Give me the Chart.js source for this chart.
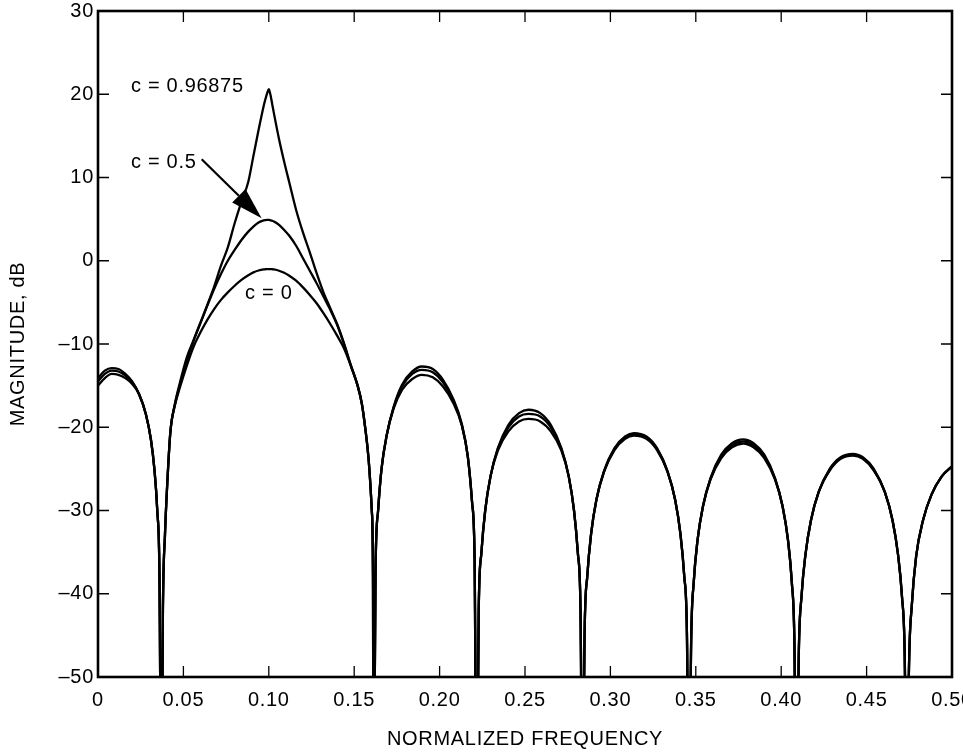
<!DOCTYPE html>
<html><head><meta charset="utf-8">
<script src="https://cdn.jsdelivr.net/npm/chart.js@4.4.1/dist/chart.umd.min.js"></script>
<style>html,body{margin:0;padding:0;background:#fff}#wrap{width:963px;height:756px}</style>
</head><body><div id="wrap"><canvas id="c" width="963" height="756"></canvas></div>
<script>
// ---- data ----
const freq = [
 0,0.004,0.008,0.012,0.016,0.020,0.024,0.028,0.031,0.033,0.0347,0.0360,0.0371,
 0.0380,0.0392,0.0405,0.0424,0.045,0.048,0.052,0.056,0.060,0.064,0.068,0.072,0.076,0.080,0.084,0.088,0.091,0.094,0.097,0.098,0.099,0.100,0.101,0.102,0.103,0.106,0.109,0.112,0.116,0.120,0.124,0.128,0.132,0.136,0.140,0.144,0.148,0.152,0.1545,0.1564,0.1585,0.1603,0.1610,0.1613,
 0.1625,0.1640,0.1660,0.1690,0.1730,0.1780,0.1840,0.1896,0.1960,0.2020,0.2080,0.2130,0.2165,0.2190,0.2205,0.2217,
 0.2229,0.2245,0.2267,0.2298,0.2341,0.2403,0.2465,0.2520,0.2589,0.2651,0.2713,0.2756,0.2787,0.2809,0.2825,0.2837,
 0.2849,0.2865,0.2887,0.2918,0.2962,0.3024,0.3086,0.3137,0.3211,0.3273,0.3335,0.3379,0.3410,0.3432,0.3448,0.3460,
 0.3473,0.3488,0.3510,0.3542,0.3586,0.3649,0.3712,0.3777,0.3838,0.3901,0.3964,0.4008,0.4040,0.4062,0.4077,0.4090,
 0.4103,0.4119,0.4142,0.4174,0.4219,0.4284,0.4348,0.4420,0.4478,0.4542,0.4607,0.4652,0.4684,0.4707,0.4723,0.4736,
 0.4748,0.4765,0.4790,0.4830,0.4880,0.4940,0.5000
];
const magC0 = [
 -15.0,-14.1,-13.6,-13.7,-14.1,-14.8,-16.0,-18.4,-21.5,-25,-30,-38,-70,
 -42,-33,-27,-20.5,-17.4,-15.2,-12.6,-10.3,-8.6,-7.1,-5.8,-4.7,-3.8,-3.0,-2.3,-1.75,-1.4,-1.17,-1.04,-1.02,-1.0,-1.0,-1.0,-1.02,-1.05,-1.2,-1.45,-1.8,-2.4,-3.2,-4.1,-5.1,-6.3,-7.6,-9.0,-10.5,-12.6,-15.0,-17.2,-20,-24,-30,-38,-70,
 -37,-30,-25,-21,-17.8,-15.5,-14.2,-13.7,-14.0,-15.1,-17.1,-19.8,-23.5,-29,-36,-70,
 -41.9,-35,-30,-25.9,-22.8,-20.5,-19.3,-19.0,-19.3,-20.5,-22.8,-25.9,-30,-35,-41.9,-70,
 -44.7,-37.8,-32.8,-28.7,-25.4,-22.75,-21.4,-21.0,-21.4,-22.75,-25.4,-28.7,-32.8,-37.8,-44.7,-70,
 -45.5,-38.6,-33.6,-29.5,-26.3,-23.7,-22.4,-21.95,-22.4,-23.7,-26.3,-29.5,-33.6,-38.6,-45.5,-70,
 -47.2,-40.3,-35.3,-31.2,-27.8,-25.2,-23.8,-23.4,-23.8,-25.2,-27.8,-31.2,-35.3,-40.3,-47.2,-70,
 -49,-41.3,-35.5,-31.2,-28.1,-25.9,-24.7
];
const magC05 = [
 -14.5,-13.6,-13.2,-13.3,-13.8,-14.6,-16.0,-18.4,-21.5,-25,-30,-38,-70,
 -42,-33,-27,-20.5,-17.3,-14.9,-12.0,-9.6,-7.5,-5.4,-3.4,-1.6,0.0,1.3,2.5,3.5,4.1,4.6,4.86,4.89,4.9,4.9,4.86,4.8,4.7,4.3,3.7,3.0,1.8,0.3,-1.2,-2.7,-4.3,-5.9,-7.7,-10.0,-12.6,-15.0,-17.2,-20,-24,-30,-38,-70,
 -37,-30,-25,-21,-17.7,-15.1,-13.6,-13.1,-13.4,-14.6,-16.8,-19.7,-23.5,-29,-36,-70,
 -41.9,-35,-30,-25.9,-22.6,-20.0,-18.7,-18.4,-18.7,-20.0,-22.6,-25.9,-30,-35,-41.9,-70,
 -44.7,-37.8,-32.8,-28.7,-25.35,-22.6,-21.25,-20.85,-21.25,-22.6,-25.35,-28.7,-32.8,-37.8,-44.7,-70,
 -45.5,-38.6,-33.6,-29.5,-26.2,-23.5,-22.15,-21.7,-22.15,-23.5,-26.2,-29.5,-33.6,-38.6,-45.5,-70,
 -47.2,-40.3,-35.3,-31.2,-27.8,-25.1,-23.7,-23.3,-23.7,-25.1,-27.8,-31.2,-35.3,-40.3,-47.2,-70,
 -49,-41.3,-35.5,-31.2,-28.1,-25.9,-24.7
];
const magC097 = [
 -14.1,-13.2,-12.9,-13.0,-13.6,-14.5,-16.0,-18.4,-21.5,-25,-30,-38,-70,
 -42,-33,-27,-20.5,-17.2,-14.6,-11.6,-9.5,-7.4,-5.3,-3.1,-0.6,1.6,4.5,7.1,9.5,12.6,15.7,18.6,19.4,20.1,20.6,19.9,18.8,17.7,14.6,11.9,9.4,6.1,3.4,1.0,-1.5,-3.8,-5.7,-7.6,-9.9,-12.5,-15.0,-17.2,-20,-24,-30,-38,-70,
 -37,-30,-25,-21,-17.6,-14.9,-13.3,-12.7,-13.0,-14.3,-16.6,-19.6,-23.5,-29,-36,-70,
 -41.9,-35,-30,-25.9,-22.5,-19.7,-18.3,-17.9,-18.3,-19.7,-22.5,-25.9,-30,-35,-41.9,-70,
 -44.7,-37.8,-32.8,-28.7,-25.3,-22.5,-21.1,-20.7,-21.1,-22.5,-25.3,-28.7,-32.8,-37.8,-44.7,-70,
 -45.5,-38.6,-33.6,-29.5,-26.1,-23.3,-21.9,-21.45,-21.9,-23.3,-26.1,-29.5,-33.6,-38.6,-45.5,-70,
 -47.2,-40.3,-35.3,-31.2,-27.8,-25.0,-23.6,-23.2,-23.6,-25.0,-27.8,-31.2,-35.3,-40.3,-47.2,-70,
 -49,-41.3,-35.5,-31.2,-28.1,-25.9,-24.7
];
const seriesNames = ['c = 0', 'c = 0.5', 'c = 0.96875'];
const xTicks = [0,0.05,0.10,0.15,0.20,0.25,0.30,0.35,0.40,0.45,0.50];
const yTicks = [-50,-40,-30,-20,-10,0,10,20,30];
const xTitle = 'NORMALIZED FREQUENCY';
const yTitle = 'MAGNITUDE, dB';

// annotation anchors (data coordinates)
const noteText = ['c = 0.96875', 'c = 0.5', 'c = 0'];
const noteX = [0.0193, 0.0193, 0.0861];
const noteY = [20.9, 11.8, -3.9];
const arrowFrom = [0.0607, 12.2];
const arrowTo = [0.0958, 5.1];

const toPts = arr => freq.map((f, i) => ({x: f, y: arr[i]}));
const FONT = '"Liberation Sans", Arial, Helvetica, sans-serif';
const FSIZE = 20;
const LSP = '0.7px';
Chart.defaults.font.family = FONT;
Chart.defaults.font.size = FSIZE;
Chart.defaults.color = '#000';

const setSpacing = chart => { try { chart.ctx.letterSpacing = LSP; } catch (e) {} };
const framePlugin = {
  id: 'frame',
  beforeInit: setSpacing,
  beforeUpdate: setSpacing,
  beforeLayout: setSpacing,
  beforeDraw: setSpacing,
  afterDatasetsDraw(chart) {
    const {ctx, chartArea: a, scales: {x, y}} = chart;
    ctx.save();
    ctx.letterSpacing = LSP;
    ctx.fillStyle = '#000';
    ctx.font = FSIZE + 'px ' + FONT;
    ctx.textAlign = 'left';
    ctx.textBaseline = 'middle';
    noteText.forEach((t, i) => ctx.fillText(t, x.getPixelForValue(noteX[i]), y.getPixelForValue(noteY[i])));
    const x0 = x.getPixelForValue(arrowFrom[0]), y0 = y.getPixelForValue(arrowFrom[1]);
    const x1 = x.getPixelForValue(arrowTo[0]), y1 = y.getPixelForValue(arrowTo[1]);
    const ang = Math.atan2(y1 - y0, x1 - x0);
    const L = 32, W = 9.5;
    const bx = x1 - L * Math.cos(ang), by = y1 - L * Math.sin(ang);
    ctx.strokeStyle = '#000';
    ctx.lineWidth = 2.2;
    ctx.beginPath(); ctx.moveTo(x0, y0); ctx.lineTo(bx, by); ctx.stroke();
    ctx.beginPath();
    ctx.moveTo(x1, y1);
    ctx.lineTo(bx + W * Math.sin(ang), by - W * Math.cos(ang));
    ctx.lineTo(bx - W * Math.sin(ang), by + W * Math.cos(ang));
    ctx.closePath(); ctx.fill();
    ctx.lineWidth = 1.3;
    ctx.beginPath();
    xTicks.forEach(v => {
      const px = x.getPixelForValue(v);
      ctx.moveTo(px, a.bottom); ctx.lineTo(px, a.bottom - 11);
      ctx.moveTo(px, a.top); ctx.lineTo(px, a.top + 11);
    });
    yTicks.forEach(v => {
      const py = y.getPixelForValue(v);
      ctx.moveTo(a.left, py); ctx.lineTo(a.left + 11, py);
      ctx.moveTo(a.right, py); ctx.lineTo(a.right - 11, py);
    });
    ctx.stroke();
    ctx.lineWidth = 2.6;
    ctx.strokeRect(a.left, a.top, a.right - a.left, a.bottom - a.top);
    ctx.restore();
  }
};

const mkDs = (label, arr) => ({
  label, data: toPts(arr), borderColor: '#000', borderWidth: 2.3,
  pointRadius: 0, fill: false, cubicInterpolationMode: 'monotone'
});

new Chart(document.getElementById('c'), {
  type: 'line',
  data: { datasets: [mkDs(seriesNames[0], magC0), mkDs(seriesNames[1], magC05), mkDs(seriesNames[2], magC097)] },
  options: {
    responsive: false, animation: false, events: [],
    layout: { padding: { left: 0, right: 11, top: 11, bottom: 0 } },
    plugins: { legend: { display: false }, tooltip: { enabled: false } },
    scales: {
      x: {
        type: 'linear', min: 0, max: 0.5,
        afterBuildTicks: s => { s.ticks = xTicks.map(v => ({value: v})); },
        afterFit: s => { s.height = 79; s.paddingLeft = 0; s.paddingRight = 0; },
        grid: { display: false, drawTicks: false },
        border: { display: false },
        ticks: { padding: 11, maxRotation: 0, autoSkip: false,
          callback: v => v === 0 ? '0' : Number(v).toFixed(2) },
        title: { display: true, text: xTitle, padding: { top: 0, bottom: 5 }, font: { size: FSIZE } }
      },
      y: {
        type: 'linear', min: -50, max: 30,
        afterBuildTicks: s => { s.ticks = yTicks.map(v => ({value: v})); },
        afterFit: s => { s.width = 98; s.paddingTop = 0; s.paddingBottom = 0; },
        grid: { display: false, drawTicks: false },
        border: { display: false },
        ticks: { padding: 4, autoSkip: false,
          callback: v => v < 0 ? '\u2013' + Math.abs(v) : String(v) },
        title: { display: true, text: yTitle, padding: { top: 6, bottom: 0 }, font: { size: FSIZE } }
      }
    }
  },
  plugins: [framePlugin]
});
</script>
</body></html>
